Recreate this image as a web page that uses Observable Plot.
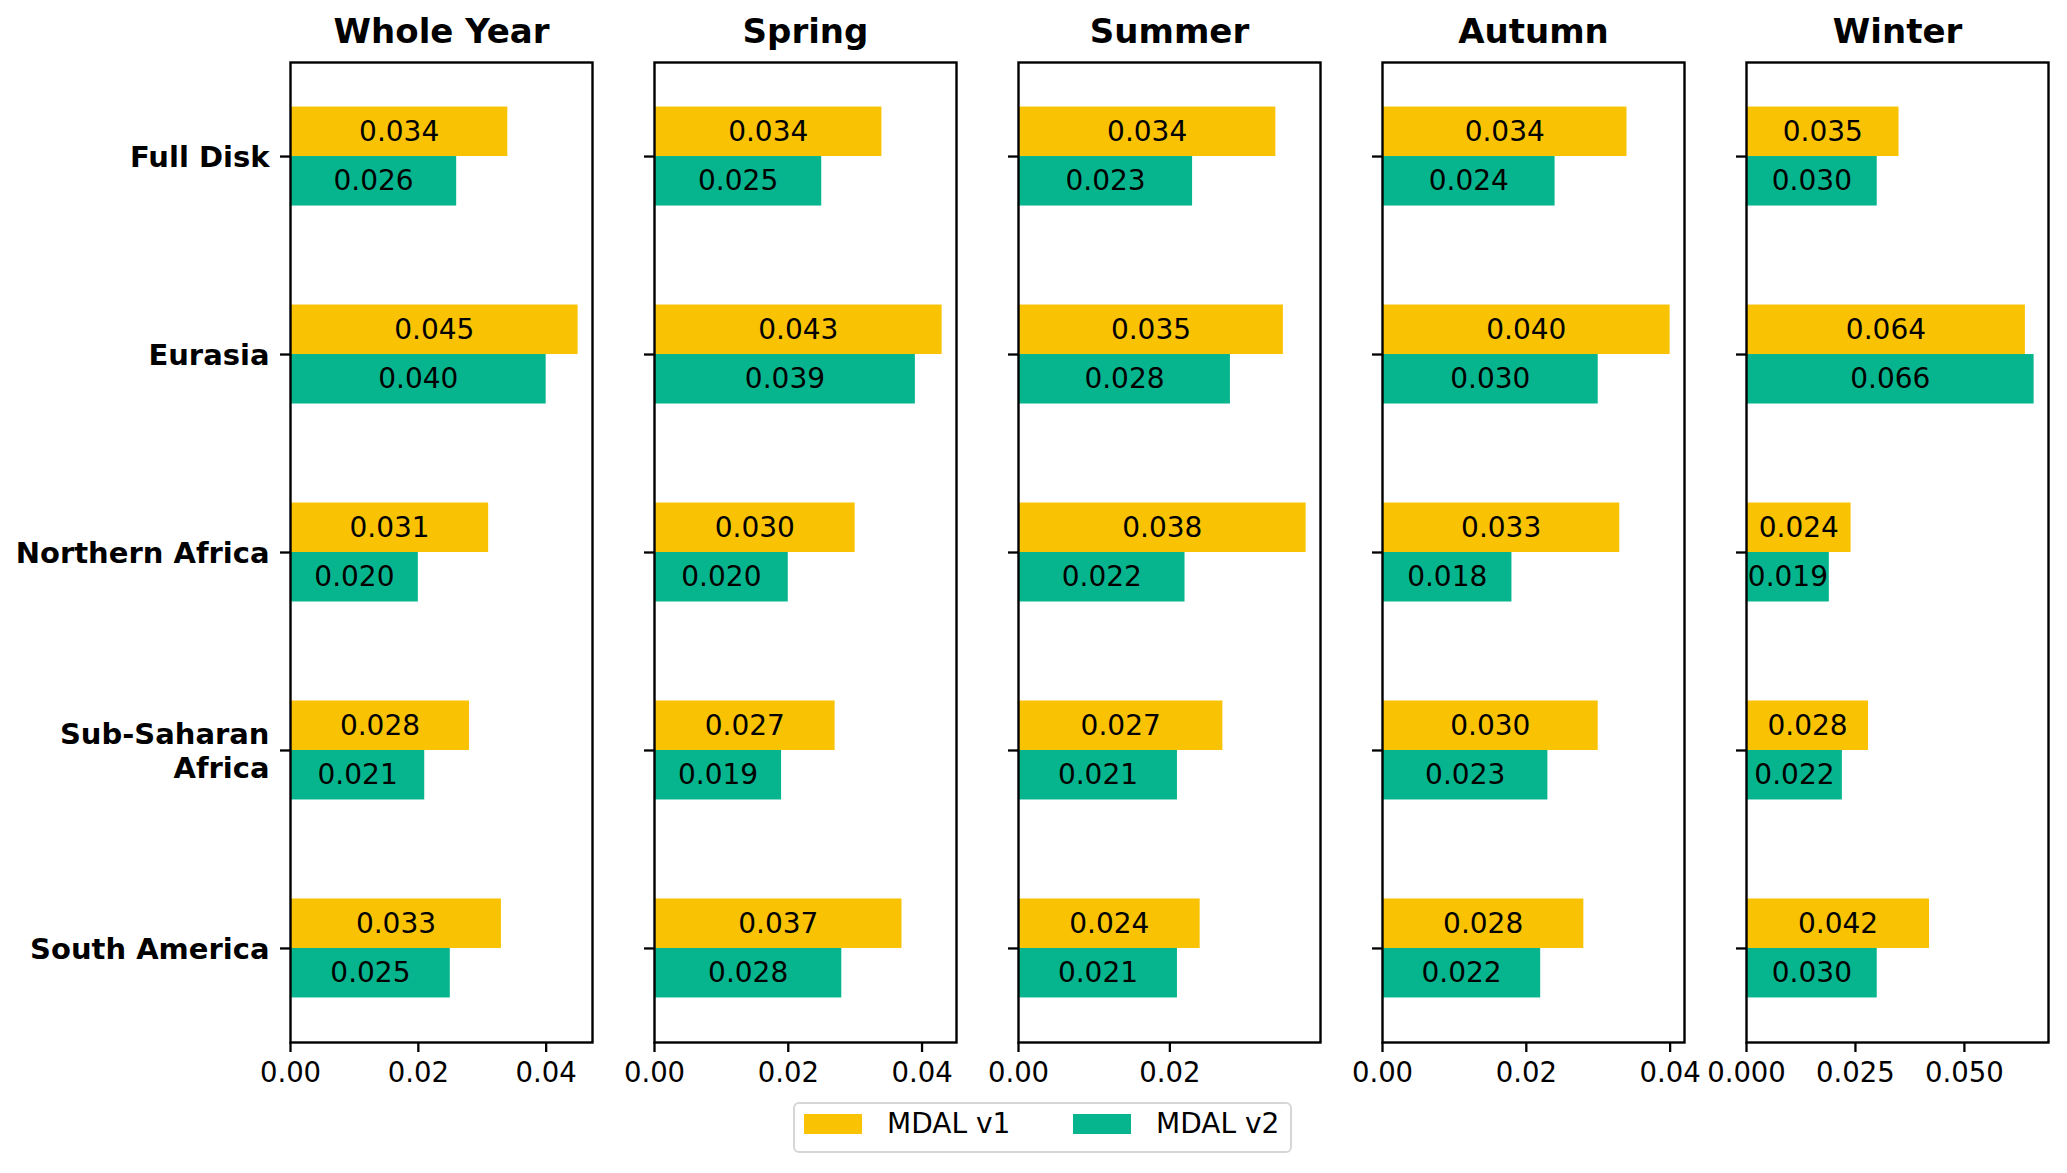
<!DOCTYPE html>
<html>
<head>
<meta charset="utf-8">
<script src="https://cdn.jsdelivr.net/npm/d3@7"></script>
<script src="https://cdn.jsdelivr.net/npm/@observablehq/plot@0.6"></script>
<style>
  body { margin: 0; background: #fff; }
  #wrap { position: relative; width: 2067px; height: 1173px; overflow: hidden; font-family: "DejaVu Sans"; color: #000; }
  .panel { position: absolute; top: 0; }
  .legend { position: absolute; left: 793px; top: 1102px; width: 495px; height: 47px;
            border: 2px solid #d6d6d6; border-radius: 6px; background: #fff; }
  .sw { position: absolute; top: 10px; width: 58px; height: 20px; }
  .lt { position: absolute; top: 0; height: 40px; line-height: 40px; font-size: 28px; font-family: "DejaVu Sans"; white-space: nowrap; }
</style>
</head>
<body>
<div id="wrap"></div>
<script>
// ---- data ----
const regions = ["Full Disk", "Eurasia", "Northern Africa", "Sub-Saharan Africa", "South America"];
const regionLabels = ["Full Disk", "Eurasia", "Northern Africa", "Sub-Saharan\nAfrica", "South America"];
const seasons = ["Whole Year", "Spring", "Summer", "Autumn", "Winter"];
const series = ["MDAL v1", "MDAL v2"];
const colors = ["#F9C304", "#06B58D"];

const v1WholeYear = [0.034, 0.045, 0.031, 0.028, 0.033];
const v2WholeYear = [0.026, 0.040, 0.020, 0.021, 0.025];
const v1Spring    = [0.034, 0.043, 0.030, 0.027, 0.037];
const v2Spring    = [0.025, 0.039, 0.020, 0.019, 0.028];
const v1Summer    = [0.034, 0.035, 0.038, 0.027, 0.024];
const v2Summer    = [0.023, 0.028, 0.022, 0.021, 0.021];
const v1Autumn    = [0.034, 0.040, 0.033, 0.030, 0.028];
const v2Autumn    = [0.024, 0.030, 0.018, 0.023, 0.022];
const v1Winter    = [0.035, 0.064, 0.024, 0.028, 0.042];
const v2Winter    = [0.030, 0.066, 0.019, 0.022, 0.030];

const xTicksWholeYear = [0, 0.02, 0.04];
const xTicksSpring    = [0, 0.02, 0.04];
const xTicksSummer    = [0, 0.02];
const xTicksAutumn    = [0, 0.02, 0.04];
const xTicksWinter    = [0, 0.025, 0.05];
const xTickFormats    = [".2f", ".2f", ".2f", ".2f", ".3f"];

// ---- assemble ----
const v1List = [v1WholeYear, v1Spring, v1Summer, v1Autumn, v1Winter];
const v2List = [v2WholeYear, v2Spring, v2Summer, v2Autumn, v2Winter];
const tickList = [xTicksWholeYear, xTicksSpring, xTicksSummer, xTicksAutumn, xTicksWinter];

const barH = 0.25;
const yLo = -barH, yHi = (regions.length - 1) + barH;
const yPad = 0.05 * (yHi - yLo);

const panelLeft0 = 290, panelStep = 364, panelW = 302;
const wrap = document.getElementById("wrap");

seasons.forEach((season, p) => {
  const rows = [];
  regions.forEach((r, i) => {
    rows.push({region: r, i, series: series[0], value: v1List[p][i], y1: i - barH, y2: i});
    rows.push({region: r, i, series: series[1], value: v2List[p][i], y1: i, y2: i + barH});
  });
  const xmax = d3.max(rows, d => d.value) * 1.05;
  const absLeft = panelLeft0 + p * panelStep;
  const ml = p === 0 ? absLeft : 30;
  const mr = 40;
  const width = ml + panelW + mr;

  const chart = Plot.plot({
    width, height: 1110,
    marginLeft: ml, marginRight: mr, marginTop: 62, marginBottom: 68,
    style: {background: "transparent", overflow: "visible", fontFamily: "DejaVu Sans", color: "black", maxWidth: "none"},
    x: {domain: [0, xmax]},
    y: {domain: [yLo - yPad, yHi + yPad], reverse: true},
    color: {domain: series, range: colors},
    marks: [
      Plot.rect(rows, {x1: 0, x2: "value", y1: "y1", y2: "y2", fill: "series"}),
      Plot.text(rows, {x: d => d.value / 2, y: d => (d.y1 + d.y2) / 2,
        text: d => d3.format(".3f")(d.value), fontSize: 28, fill: "black"}),
      Plot.frame({stroke: "black", strokeWidth: 2.4}),
      Plot.axisX({ticks: tickList[p], tickFormat: d3.format(xTickFormats[p]), tickSize: 10,
        tickPadding: 10, fontSize: 27.5, strokeWidth: 2.3, label: null}),
      Plot.axisY({ticks: d3.range(regions.length),
        tickFormat: p === 0 ? (i => regionLabels[i]) : (() => ""),
        tickSize: 10, tickPadding: 11, fontSize: 29, fontWeight: "bold", lineHeight: 1.17,
        strokeWidth: 2.3, label: null}),
      Plot.text([season], {frameAnchor: "top", text: d => d, dy: -20, lineAnchor: "bottom",
        fontSize: 34, fontWeight: "bold", fill: "black"})
    ]
  });
  const div = document.createElement("div");
  div.className = "panel";
  div.style.left = (absLeft - ml) + "px";
  div.style.width = width + "px";
  div.appendChild(chart);
  wrap.appendChild(div);
});

// ---- legend ----
const legend = d3.select(wrap).append("div").attr("class", "legend");
const swX = [9, 278], txX = [92, 361];
series.forEach((s, k) => {
  legend.append("div").attr("class", "sw").style("left", swX[k] + "px").style("background", colors[k]);
  legend.append("div").attr("class", "lt").style("left", txX[k] + "px").text(s);
});
</script>
</body>
</html>
